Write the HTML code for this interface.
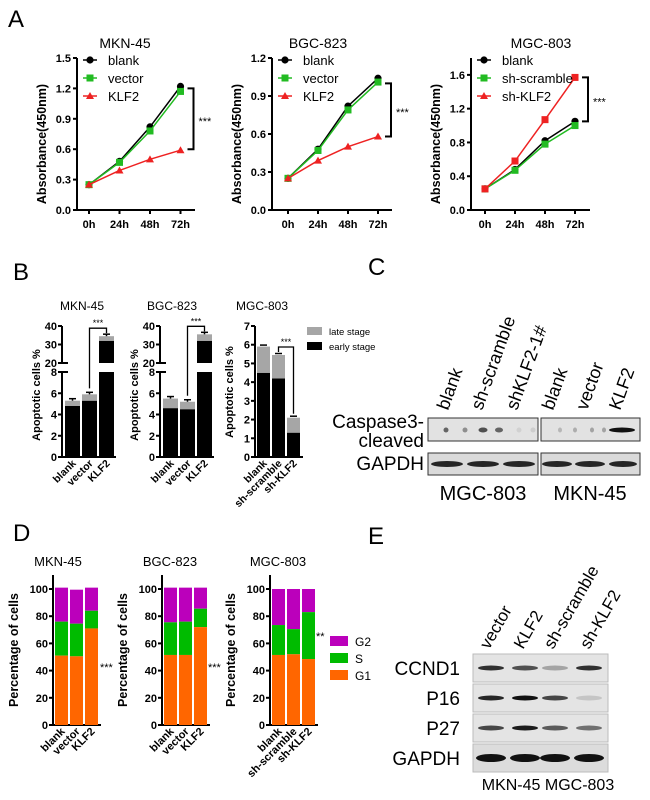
<!DOCTYPE html>
<html><head><meta charset="utf-8"><style>
body{margin:0;background:#fff}
svg{display:block;font-family:"Liberation Sans",Arial,sans-serif}
.b{font-weight:bold}
</style></head><body>
<svg id="fig" width="650" height="800" viewBox="0 0 650 800" xmlns="http://www.w3.org/2000/svg">
<text x="8" y="27" font-size="24">A</text>
<text x="13" y="280" font-size="24">B</text>
<text x="368" y="275" font-size="24">C</text>
<text x="13" y="541" font-size="24">D</text>
<text x="368" y="544" font-size="24">E</text>
<g id="g"></g>
</svg>
<script>
// ---- Panel A data ----
const timeLabels = ["0h","24h","48h","72h"];
const a1Blank = [0.25,0.48,0.82,1.22];
const a1Vector = [0.25,0.47,0.78,1.17];
const a1KLF2 = [0.25,0.39,0.50,0.59];
const a1Ticks = [0,0.3,0.6,0.9,1.2,1.5];
const a2Blank = [0.25,0.48,0.82,1.04];
const a2Vector = [0.25,0.47,0.79,1.01];
const a2KLF2 = [0.25,0.39,0.50,0.58];
const a2Ticks = [0,0.3,0.6,0.9,1.2];
const a3Blank = [0.25,0.48,0.82,1.05];
const a3Scramble = [0.25,0.47,0.78,1.00];
const a3ShKLF2 = [0.25,0.58,1.07,1.57];
const a3Ticks = [0,0.4,0.8,1.2,1.6];
// ---- Panel B data ----
const bCats1 = ["blank","vector","KLF2"];
const bCats3 = ["blank","sh-scramble","sh-KLF2"];
const b1Early = [4.8,5.3,32];
const b1Total = [5.3,5.9,34.5];
const b2Early = [4.6,4.5,32];
const b2Total = [5.5,5.2,35.5];
const b3Early = [4.5,4.2,1.3];
const b3Total = [5.9,5.45,2.1];
const bLowTicks = [0,2,4,6,8];
const bHighTicks = [20,30,40];
const b3Ticks = [0,1,2,3,4,5,6,7];
// ---- Panel D data ----
const d1G1 = [51,50.5,71];
const d1S = [76,74.5,84];
const d1G2 = [101,99.5,101];
const d2G1 = [51.5,51.5,72];
const d2S = [75.5,76,85.5];
const d2G2 = [101,101,101];
const d3G1 = [51.5,52,48.5];
const d3S = [73.5,70.5,83];
const d3G2 = [100,100,100];
const dTicks = [0,20,40,60,80,100];

const NS="http://www.w3.org/2000/svg";
const root=document.getElementById('g');
function mk(tag,attrs,parent,txt){const e=document.createElementNS(NS,tag);for(const k in attrs)e.setAttribute(k,attrs[k]);if(txt!==undefined)e.textContent=txt;(parent||root).appendChild(e);return e;}

function marker(g,type,x,y,col){
  let e;
  if(type==='c') e=mk('circle',{cx:x,cy:y,r:3.6,fill:col},g);
  else if(type==='s') e=mk('rect',{x:x-3.5,y:y-3.5,width:7,height:7,fill:col},g);
  else e=mk('polygon',{points:`${x},${y-4} ${x-4},${y+3} ${x+4},${y+3}`,fill:col},g);
  return e;
}

function lineChart(o){
  const g=mk('g',{});
  
  
  const sy=v=>o.y0-(v/o.ymax)*(o.y0-o.yTop);
  const sx=i=>o.x1+i*o.step;
  const ax=mk('path',{d:`M${o.ax},${o.yTop} V${o.y0} H${o.ax+o.axLen}`,stroke:'#000','stroke-width':2,fill:'none'},g);
  
  
  o.ticks.forEach(t=>{
    mk('line',{x1:o.ax-4,x2:o.ax,y1:sy(t),y2:sy(t),stroke:'#000','stroke-width':2},g);
    const tl=mk('text',{x:o.ax-6,y:sy(t)+4,'font-size':11,'text-anchor':'end',class:'b'},g,t.toFixed(1));
    
    
  });
  timeLabels.forEach((t,i)=>{
    mk('line',{x1:sx(i),x2:sx(i),y1:o.y0,y2:o.y0+4,stroke:'#000','stroke-width':2},g);
    const tl=mk('text',{x:sx(i),y:o.y0+18,'font-size':11,'text-anchor':'middle',class:'b'},g,t);
    
    
  });
  const yt=mk('text',{transform:`translate(${o.ax-31},${(o.y0+o.yTop)/2+10}) rotate(-90)`,'font-size':12.5,'text-anchor':'middle',class:'b'},g,'Absorbance(450nm)');
  
  
  const tt=mk('text',{x:o.tx,y:48,'font-size':14,'text-anchor':'middle'},g,o.title);
  
  
  o.series.forEach(s=>{
    const pts=s.v.map((v,i)=>`${sx(i)},${sy(v)}`).join(' ');
    const pl=mk('polyline',{points:pts,fill:'none',stroke:s.col,'stroke-width':1.5},g);
    
    
    s.v.forEach((v,i)=>{const m=marker(g,s.m,sx(i),sy(v),s.col);
      
      });
  });
  o.series.forEach((s,k)=>{
    const ly=60+k*18;
    mk('line',{x1:o.ax+6,x2:o.ax+20,y1:ly,y2:ly,stroke:s.col,'stroke-width':1.5},g);
    marker(g,s.lm||s.m,o.ax+13,ly,s.col);
    const lt=mk('text',{x:o.ax+31,y:ly+5,'font-size':13},g,s.label);
    
    
  });
  const xb=sx(3)+10, ya=sy(o.brA), yb=sy(o.brB);
  const br=mk('path',{d:`M${xb-3},${ya} H${xb+3} V${yb} H${xb-3}`,stroke:'#000','stroke-width':2,fill:'none'},g);
  
  
  const st=mk('text',{x:xb+8,y:(ya+yb)/2+6,'font-size':11},g,'***');
  
  
}

lineChart({name:'chart-a-mkn45',title:'MKN-45',tx:125,ax:77,axLen:118,y0:210,yTop:58,ymax:1.5,x1:89,step:30.5,ticks:a1Ticks,brA:1.2,brB:0.6,
  series:[{label:'blank',v:a1Blank,col:'#000',m:'c'},{label:'vector',v:a1Vector,col:'#22bb22',m:'s'},{label:'KLF2',v:a1KLF2,col:'#ee2222',m:'t'}]});
lineChart({name:'chart-a-bgc823',title:'BGC-823',tx:318,ax:272,axLen:120,y0:210,yTop:58,ymax:1.2,x1:288,step:30,ticks:a2Ticks,brA:1.0,brB:0.58,
  series:[{label:'blank',v:a2Blank,col:'#000',m:'c'},{label:'vector',v:a2Vector,col:'#22bb22',m:'s'},{label:'KLF2',v:a2KLF2,col:'#ee2222',m:'t'}]});
lineChart({name:'chart-a-mgc803',title:'MGC-803',tx:541,ax:471,axLen:119,y0:210,yTop:58,ymax:1.8,x1:485,step:30,ticks:a3Ticks,brA:1.57,brB:1.05,
  series:[{label:'blank',v:a3Blank,col:'#000',m:'c'},{label:'sh-scramble',v:a3Scramble,col:'#22bb22',m:'s'},{label:'sh-KLF2',v:a3ShKLF2,col:'#ee2222',m:'s',lm:'t'}]});

// ---- Panel B ----
function xLabels(g,cats,xs,y,fs){
  cats.forEach((c,i)=>{
    const t=mk('text',{transform:`translate(${xs[i]+4},${y}) rotate(-45)`,'font-size':fs,'text-anchor':'end',class:'b'},g,c);
    
    
  });
}
function apopBroken(o){
  const g=mk('g',{});
  
  
  const y0=457;
  const sy=v=> v<=8 ? y0-v*85/8 : 363-(v-20)*37/20;
  mk('path',{d:`M${o.ax},${y0} V372`,stroke:'#000','stroke-width':2},g);
  mk('path',{d:`M${o.ax},363 V326`,stroke:'#000','stroke-width':2},g);
  mk('line',{x1:o.ax-4,x2:o.ax+6,y1:372,y2:372,stroke:'#000','stroke-width':2},g);
  mk('line',{x1:o.ax-4,x2:o.ax+6,y1:363,y2:363,stroke:'#000','stroke-width':2},g);
  mk('line',{x1:o.ax,x2:o.ax+54,y1:y0,y2:y0,stroke:'#000','stroke-width':2},g);
  bLowTicks.concat(bHighTicks).forEach(t=>{
    mk('line',{x1:o.ax-4,x2:o.ax,y1:sy(t),y2:sy(t),stroke:'#000','stroke-width':2},g);
    const tl=mk('text',{x:o.ax-5,y:sy(t)+4,'font-size':11,'text-anchor':'end',class:'b'},g,t);
    
    
  });
  const xs=[];
  o.early.forEach((e,i)=>{
    const x=o.ax+3+i*17, w=15; xs.push(x+w/2);
    const tot=o.total[i];
    const segs = tot>8 ? [[0,8],[20,tot]] : [[0,tot]];
    segs.forEach(([a,b])=>{
      const lo=Math.min(e,b);
      const r1=mk('rect',{x:x,y:sy(Math.min(b,e)),width:w,height:sy(a)-sy(lo),fill:'#000'},g);
      
      
      if(b>e){const r2=mk('rect',{x:x,y:sy(b),width:w,height:sy(Math.max(a,e))-sy(b),fill:'#a6a6a6'},g);
        
        }
    });
    mk('line',{x1:x+w/2,x2:x+w/2,y1:sy(tot)-2,y2:sy(tot),stroke:'#000','stroke-width':1.5},g);
    mk('line',{x1:x+4,x2:x+w-4,y1:sy(tot)-2,y2:sy(tot)-2,stroke:'#000','stroke-width':1.5},g);
  });
  const by=sy(o.total[2])-8;
  const br=mk('path',{d:`M${xs[1]},${sy(o.total[1])-6} V${by} H${xs[2]} V${sy(o.total[2])-3}`,stroke:'#000','stroke-width':1.3,fill:'none'},g);
  
  
  mk('text',{x:(xs[1]+xs[2])/2,y:by-2,'font-size':9,'text-anchor':'middle'},g,'***');
  const yt=mk('text',{transform:`translate(${o.ax-22},395) rotate(-90)`,'font-size':11,'text-anchor':'middle',class:'b'},g,'Apoptotic cells %');
  
  
  const tt=mk('text',{x:o.tx,y:310,'font-size':12,'text-anchor':'middle'},g,o.title);
  
  
  xLabels(g,o.cats,xs,464,10.5);
}
apopBroken({name:'chart-b-mkn45',title:'MKN-45',tx:82,ax:62,early:b1Early,total:b1Total,cats:bCats1});
apopBroken({name:'chart-b-bgc823',title:'BGC-823',tx:172,ax:160,early:b2Early,total:b2Total,cats:bCats1});
(function(){
  const g=mk('g',{});
  
  
  const ax=255,y0=457,sy=v=>y0-v*(y0-326)/7;
  mk('path',{d:`M${ax},326 V${y0} H303`,stroke:'#000','stroke-width':2,fill:'none'},g);
  b3Ticks.forEach(t=>{
    mk('line',{x1:ax-4,x2:ax,y1:sy(t),y2:sy(t),stroke:'#000','stroke-width':2},g);
    const tl=mk('text',{x:ax-5,y:sy(t)+4,'font-size':11,'text-anchor':'end',class:'b'},g,t);
    
    
  });
  const xs=[];
  b3Early.forEach((e,i)=>{
    const x=ax+2+i*15,w=13;xs.push(x+w/2);
    const r1=mk('rect',{x:x,y:sy(e),width:w,height:sy(0)-sy(e),fill:'#000'},g);
    
    
    const r2=mk('rect',{x:x,y:sy(b3Total[i]),width:w,height:sy(e)-sy(b3Total[i]),fill:'#a6a6a6'},g);
    
    
    mk('line',{x1:x+3,x2:x+w-3,y1:sy(b3Total[i])-1.5,y2:sy(b3Total[i])-1.5,stroke:'#000','stroke-width':1.5},g);
  });
  const by=sy(b3Total[1])-8;
  const br=mk('path',{d:`M${xs[1]},${by+5} V${by} H${xs[2]} V${sy(b3Total[2])-4}`,stroke:'#000','stroke-width':1.3,fill:'none'},g);
  
  
  mk('text',{x:(xs[1]+xs[2])/2,y:by-2,'font-size':9,'text-anchor':'middle'},g,'***');
  const yt=mk('text',{transform:`translate(${ax-22},392) rotate(-90)`,'font-size':11,'text-anchor':'middle',class:'b'},g,'Apoptotic cells %');
  
  
  const tt=mk('text',{x:262,y:310,'font-size':12,'text-anchor':'middle'},g,'MGC-803');
  
  
  xLabels(g,bCats3,xs,464,10.5);
  const l1=mk('rect',{x:307,y:327,width:15,height:8,fill:'#a6a6a6'},g);
  
  
  mk('text',{x:329,y:335,'font-size':9.5},g,'late stage');
  const l2=mk('rect',{x:307,y:342,width:15,height:8,fill:'#000'},g);
  
  
  mk('text',{x:329,y:350,'font-size':9.5},g,'early stage');
})();

// ---- Panel D ----
function cellCycle(o){
  const g=mk('g',{});
  
  
  const y0=725,sy=v=>y0-v*1.36;
  mk('path',{d:`M${o.ax},575 V${y0} H${o.ax+48}`,stroke:'#000','stroke-width':2,fill:'none'},g);
  dTicks.forEach(t=>{
    mk('line',{x1:o.ax-4,x2:o.ax,y1:sy(t),y2:sy(t),stroke:'#000','stroke-width':2},g);
    const tl=mk('text',{x:o.ax-5,y:sy(t)+4,'font-size':11,'text-anchor':'end',class:'b'},g,t);
    
    
  });
  const xs=[];
  o.g1.forEach((v,i)=>{
    const x=o.ax+2+i*15,w=13;xs.push(x+w/2);
    const r3=mk('rect',{x:x,y:sy(o.g2[i]),width:w,height:sy(o.s[i])-sy(o.g2[i]),fill:'#bb00bb'},g);
    
    
    const r2=mk('rect',{x:x,y:sy(o.s[i]),width:w,height:sy(v)-sy(o.s[i]),fill:'#00bb00'},g);
    
    
    const r1=mk('rect',{x:x,y:sy(v),width:w,height:sy(0)-sy(v),fill:'#ff6600'},g);
    
    
  });
  const yt=mk('text',{transform:`translate(${o.ax-35},650) rotate(-90)`,'font-size':12.5,'text-anchor':'middle',class:'b'},g,'Percentage of cells');
  
  
  const tt=mk('text',{x:o.tx,y:566,'font-size':13,'text-anchor':'middle'},g,o.title);
  
  
  const st=mk('text',{x:o.sx,y:o.sy,'font-size':11},g,o.stars);
  
  
  xLabels(g,o.cats,xs,732,11);
}
cellCycle({name:'chart-d-mkn45',title:'MKN-45',tx:58,ax:53,g1:d1G1,s:d1S,g2:d1G2,cats:bCats1,stars:'***',sx:100,sy:671});
cellCycle({name:'chart-d-bgc823',title:'BGC-823',tx:170,ax:162,g1:d2G1,s:d2S,g2:d2G2,cats:bCats1,stars:'***',sx:208,sy:671});
cellCycle({name:'chart-d-mgc803',title:'MGC-803',tx:278,ax:270,g1:d3G1,s:d3S,g2:d3G2,cats:bCats3,stars:'**',sx:316,sy:640});
[['G2','#bb00bb',636],['S','#00bb00',653],['G1','#ff6600',670]].forEach(([l,c,y])=>{
  const r=mk('rect',{x:330,y:y,width:18,height:10,fill:c});
  
  
  const t=mk('text',{x:355,y:y+10,'font-size':12},undefined,l);
  
  
});

// ---- Blots (C & E) ----
function band(g,x,y,w,h,op){
  return mk('ellipse',{cx:x,cy:y,rx:w/2,ry:h/2,fill:'#111','fill-opacity':op},g);
}
(function(){
  const g=mk('g',{});
  
  
  [[428,538],[541,640]].forEach(([a,b])=>{
    mk('rect',{x:a,y:418,width:b-a,height:23,fill:'#e2e2e2',stroke:'#333','stroke-width':1},g);
    mk('rect',{x:a,y:453,width:b-a,height:22,fill:'#dadada',stroke:'#333','stroke-width':1},g);
  });
  [[446,.6,5],[465,.4,5],[483,.7,9],[499,.6,8],[519,.08,5],[533,.1,5],[560,.2,4],[575,.25,4],[592,.3,4],[604,.3,4],[622,1,26]].forEach(([x,o,w])=>{
    const e=band(g,x,430,w,5,o);
    
    
  });
  [[447,32],[483,32],[519,32],[557,30],[590,30],[623,28]].forEach(([x,w])=>{
    const e=band(g,x,464,w,6,.9);
    
    
  });
  [['blank',448],['sh-scramble',482],['shKLF2-1#',517],['blank',553],['vector',587],['KLF2',620]].forEach(([t,x])=>{
    const e=mk('text',{transform:`translate(${x},411) rotate(-70)`,'font-size':18},g,t);
    
    
  });
  [['Caspase3-',428],['cleaved',447],['GAPDH',470]].forEach(([t,y])=>{
    const e=mk('text',{x:424,y:y,'font-size':19,'text-anchor':'end'},g,t);
    
    
  });
  mk('text',{x:483,y:500,'font-size':20,'text-anchor':'middle'},g,'MGC-803');
  mk('text',{x:590,y:500,'font-size':20,'text-anchor':'middle'},g,'MKN-45');
})();
(function(){
  const g=mk('g',{});
  
  
  const lx=[491,525,555,589];
  const rows=[['CCND1',654,[.85,.7,.3,.85]],['P16',684,[.9,1,.75,.15]],['P27',714,[.75,.95,.65,.55]],['GAPDH',744,[1,1,1,1]]];
  rows.forEach(([n,y,ops])=>{
    mk('rect',{x:473,y:y,width:135,height:28,fill:n==='GAPDH'?'#dcdcdc':'#e4e4e4',stroke:'#bbb','stroke-width':1},g);
    ops.forEach((o,i)=>{
      const e=band(g,lx[i],y+14,n==='GAPDH'?30:26,n==='GAPDH'?8:5,o);
      
      
    });
    const t=mk('text',{x:460,y:y+21,'font-size':19,'text-anchor':'end'},g,n);
    
    
  });
  [['vector',489],['KLF2',523],['sh-scramble',553],['sh-KLF2',589]].forEach(([t,x])=>{
    const e=mk('text',{transform:`translate(${x},650) rotate(-60)`,'font-size':17},g,t);
    
    
  });
  mk('text',{x:548,y:790,'font-size':16,'text-anchor':'middle'},g,'MKN-45  MGC-803');
})();
</script>
</body></html>
